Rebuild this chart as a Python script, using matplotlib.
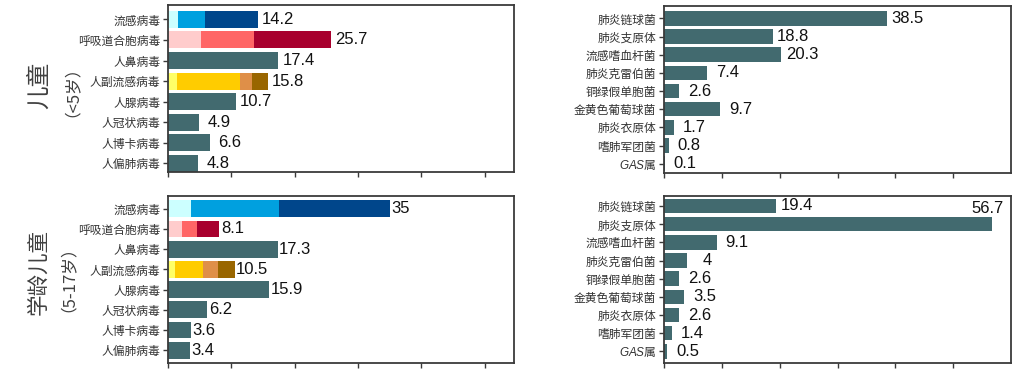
import matplotlib
matplotlib.use("Agg")
import matplotlib.pyplot as plt
import numpy as np

plt.rcParams["font.family"] = ["Noto Sans CJK SC", "DejaVu Sans"]
plt.rcParams["mathtext.fontset"] = "custom"
plt.rcParams["mathtext.it"] = "Liberation Sans:italic"
plt.rcParams["mathtext.rm"] = "Liberation Sans"

TEAL = "#426a6f"
SPINE = "#3a3a3a"

# ---- data ----
virus_names = ["流感病毒", "呼吸道合胞病毒", "人鼻病毒", "人副流感病毒",
               "人腺病毒", "人冠状病毒", "人博卡病毒", "人偏肺病毒"]
virus_child = [14.2, 25.7, 17.4, 15.8, 10.7, 4.9, 6.6, 4.8]
virus_school = [35, 8.1, 17.3, 10.5, 15.9, 6.2, 3.6, 3.4]

# subtype segments for the stacked rows (flu, RSV, parainfluenza)
flu_child = [1.6, 4.3, 8.3]
rsv_child = [5.2, 8.4, 12.1]
piv_child = [1.4, 10.0, 1.9, 2.5]
flu_school = [3.6, 13.9, 17.5]
rsv_school = [2.2, 2.4, 3.5]
piv_school = [1.1, 4.4, 2.4, 2.6]

flu_colors = ["#ccffff", "#00a0df", "#00468b"]
rsv_colors = ["#ffcccc", "#ff6666", "#a8002e"]
piv_colors = ["#ffff66", "#ffcc00", "#df8f48", "#996600"]

bact_names = ["肺炎链球菌", "肺炎支原体", "流感嗜血杆菌", "肺炎克雷伯菌", "铜绿假单胞菌",
              "金黄色葡萄球菌", "肺炎衣原体", "嗜肺军团菌", r"$\it{GAS}$属"]
bact_child = [38.5, 18.8, 20.3, 7.4, 2.6, 9.7, 1.7, 0.8, 0.1]
bact_school = [19.4, 56.7, 9.1, 4, 2.6, 3.5, 2.6, 1.4, 0.5]


def style_axes(ax, names, xmax, ylim):
    ax.set_xlim(0, xmax)
    ax.set_ylim(*ylim)
    ax.set_xticks(np.arange(0, 51, 10))
    ax.set_xticklabels([])
    ax.set_yticks(np.arange(len(names)))
    ax.set_yticklabels(names, fontsize=8.5, color="#333333")
    ax.tick_params(direction="out", length=3.5, width=1, color=SPINE, pad=2)
    for s in ax.spines.values():
        s.set_color(SPINE)
        s.set_linewidth(1.3)


def value_labels(ax, values, offset, ha="center", skip=()):
    for i, v in enumerate(values):
        if i in skip:
            continue
        ax.annotate(f"{v:g}", xy=(v, i), xytext=(offset, 0), textcoords="offset points",
                    ha=ha, va="center", fontsize=12, family="Liberation Sans",
                    color="#111111")


def virus_panel(ax, totals, stacks, ylim):
    y = np.arange(len(totals))
    h = 0.83
    plain = [v if i not in stacks else 0 for i, v in enumerate(totals)]
    ax.barh(y, plain, height=h, color=TEAL)
    for row, (segs, cols) in stacks.items():
        left = np.concatenate([[0], np.cumsum(segs)[:-1]])
        ax.barh([row] * len(segs), segs, left=left, height=h, color=cols)
    style_axes(ax, virus_names, 54.6, ylim)


def bact_panel(ax, values, ylim):
    y = np.arange(len(values))
    ax.barh(y, values, height=0.8, color=TEAL)
    style_axes(ax, bact_names, 60, ylim)


fig = plt.figure(figsize=(10.33, 3.70), dpi=100)
W, H = 1033, 370

ax1 = fig.add_axes([168 / W, 1 - 172 / H, 346 / W, 167 / H])
ax2 = fig.add_axes([168 / W, 1 - 363 / H, 346 / W, 167 / H])
ax3 = fig.add_axes([664 / W, 1 - 173 / H, 347 / W, 167 / H])
ax4 = fig.add_axes([664 / W, 1 - 363 / H, 347 / W, 167 / H])

virus_panel(ax1, virus_child,
            {0: (flu_child, flu_colors), 1: (rsv_child, rsv_colors), 3: (piv_child, piv_colors)},
            (7.42, -0.70))
value_labels(ax1, virus_child, 14.5)
virus_panel(ax2, virus_school,
            {0: (flu_school, flu_colors), 1: (rsv_school, rsv_colors), 3: (piv_school, piv_colors)},
            (7.63, -0.63))
value_labels(ax2, virus_school, 1.1, ha="left")

bact_panel(ax3, bact_child, (8.51, -0.68))
value_labels(ax3, bact_child, 14.8)
bact_panel(ax4, bact_school, (8.64, -0.55))
value_labels(ax4, bact_school, 14.8, skip=(1,))
ax4.annotate(f"{bact_school[1]:g}", xy=(bact_school[1], 1), xytext=(-3, 11.5),
             textcoords="offset points", ha="center", va="center", fontsize=12,
             family="Liberation Sans", color="#111111")

# row titles
fig.text(39 / W, 1 - 85 / H, "儿童", rotation=90, ha="center", va="center",
         fontsize=17, color="#404040")
fig.text(63 / W, 1 - 82.5 / H, "（<5岁）", rotation=90, ha="center", va="center",
         fontsize=12, color="#404040")
fig.text(38 / W, 1 - 271.7 / H, "学龄儿童", rotation=90, ha="center", va="center",
         fontsize=15.5, color="#404040")
fig.text(59 / W, 1 - 270 / H, "（5-17岁）", rotation=90, ha="center", va="center",
         fontsize=12, color="#404040")

fig.savefig("out.png", dpi=100)
